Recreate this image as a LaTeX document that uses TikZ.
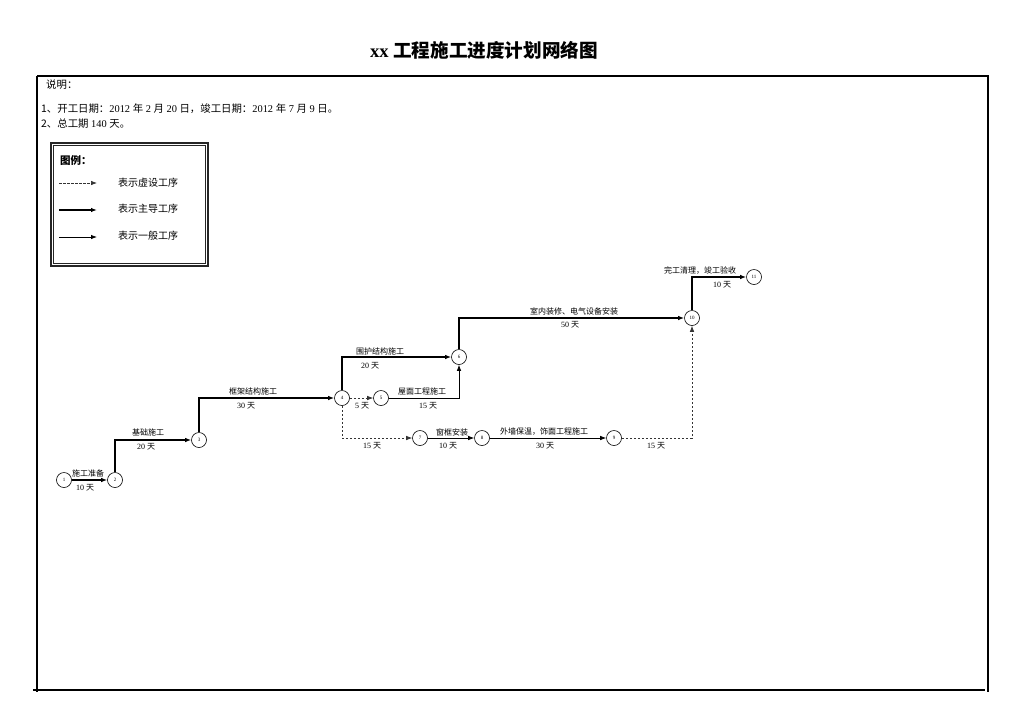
\documentclass[tikz,border=0pt]{standalone}
\usepackage{fontspec}
\setmainfont{Liberation Serif}
\newfontfamily\cj{Noto Sans CJK SC}
\usetikzlibrary{arrows.meta}
\begin{document}
\begin{tikzpicture}[x=1pt,y=-1pt,
  ev/.style={circle,draw,line width=0.6pt,minimum size=15pt,inner sep=0pt,fill=white,font=\fontsize{5}{5}\selectfont},
  tip/.style={-{Latex[length=6pt,width=4.5pt]}},
  mainline/.style={tip,line width=1.5pt},
  normline/.style={tip,line width=0.8pt},
  dummyline/.style={tip,line width=0.7pt,dash pattern=on 2.5pt off 1.5pt,draw=black!80},
  lbl/.style={font=\fontsize{8}{8}\selectfont\cj,inner sep=0.5pt},
  num/.style={font=\fontsize{8}{8}\selectfont,inner sep=0.5pt},
  txt/.style={font=\fontsize{10.4}{10.4}\selectfont,inner sep=0pt,anchor=west},
  legtxt/.style={font=\fontsize{10}{10}\selectfont\cj,inner sep=0pt},
  frame/.style={line width=1.2pt}]
\useasboundingbox (0,0) rectangle (1024,724);
% title
\node[font=\fontsize{18.6}{18.6}\selectfont\bfseries] (title) at (484,50) {xx {\cj 工程施工进度计划网络图}};
% frame
\coordinate (f1) at (37,76);
\coordinate (f2) at (988,76);
\coordinate (f3) at (988,692);
\coordinate (f4) at (37,692);
\draw[frame] (f1) -- (f2) -- (f3);
\draw[frame] (f1) -- (f4);
\coordinate (b1) at (33,690);
\coordinate (b2) at (985,690);
\draw[frame] (b1) -- (b2);
% description
\node[txt] (d0) at (46,85) {\cj 说明：};
\node[txt] (d1) at (41,109) {{\cj 1、开工日期：}2012 {\cj 年} 2 {\cj 月} 20 {\cj 日，竣工日期：}2012 {\cj 年} 7 {\cj 月} 9 {\cj 日。}};
\node[txt] (d2) at (41,124) {{\cj 2、总工期} 140 {\cj 天。}};
% legend
\coordinate (r1) at (51,143); \coordinate (r2) at (208,266);
\coordinate (r3) at (53.5,145.5); \coordinate (r4) at (205.5,263.5);
\draw[line width=1.2pt,draw=black!85] (r1) rectangle (r2);
\draw[line width=0.7pt,draw=black!85] (r3) rectangle (r4);
\node[font=\fontsize{10.5}{10.5}\selectfont\bfseries\cj,anchor=west,inner sep=0pt] (lg) at (60,161) {图例：};
\coordinate (la1) at (59,183); \coordinate (la2) at (97,183);
\coordinate (lb1) at (59,210); \coordinate (lb2) at (97,210);
\coordinate (lc1) at (59,237); \coordinate (lc2) at (97,237);
\draw[dummyline] (la1) -- (la2);
\draw[mainline] (lb1) -- (lb2);
\draw[normline] (lc1) -- (lc2);
\node[legtxt] (lt1) at (148,183) {表示虚设工序};
\node[legtxt] (lt2) at (148,209) {表示主导工序};
\node[legtxt] (lt3) at (148,236) {表示一般工序};
% events
\node[ev] (n1) at (64,480) {1};
\node[ev] (n2) at (115,480) {2};
\node[ev] (n3) at (199,440) {3};
\node[ev] (n4) at (342,398) {4};
\node[ev] (n5) at (381,398) {5};
\node[ev] (n6) at (459,357) {6};
\node[ev] (n7) at (420,438) {7};
\node[ev] (n8) at (482,438) {8};
\node[ev] (n9) at (614,438) {9};
\node[ev] (n10) at (692,318) {10};
\node[ev] (n11) at (754,277) {11};
% activities
\draw[mainline] (n1) -- (n2);
\draw[mainline] (n2) |- (n3);
\draw[mainline] (n3) |- (n4);
\draw[mainline] (n4) |- (n6);
\draw[dummyline] (n4) -- (n5);
\draw[normline] (n5) -| (n6);
\draw[dummyline] (n4) |- (n7);
\draw[normline] (n7) -- (n8);
\draw[normline] (n8) -- (n9);
\draw[dummyline] (n9) -| (n10);
\draw[mainline] (n6) |- (n10);
\draw[mainline] (n10) |- (n11);
% labels
\node[lbl] (t1a) at (88,473) {施工准备};
\node[num] (t1b) at (85,488) {10 {\cj 天}};
\node[lbl] (t2a) at (148,432) {基础施工};
\node[num] (t2b) at (146,447) {20 {\cj 天}};
\node[lbl] (t3a) at (253,391) {框架结构施工};
\node[num] (t3b) at (246,406) {30 {\cj 天}};
\node[lbl] (t4a) at (380,351) {围护结构施工};
\node[num] (t4b) at (370,366) {20 {\cj 天}};
\node[num] (t45) at (362,406) {5 {\cj 天}};
\node[lbl] (t5a) at (422,391) {屋面工程施工};
\node[num] (t5b) at (428,406) {15 {\cj 天}};
\node[num] (t47) at (372,446) {15 {\cj 天}};
\node[lbl] (t7a) at (452,432) {窗框安装};
\node[num] (t7b) at (448,446) {10 {\cj 天}};
\node[lbl] (t8a) at (544,432) {外墙保温，饰面工程施工};
\node[num] (t8b) at (545,446) {30 {\cj 天}};
\node[num] (t9) at (656,446) {15 {\cj 天}};
\node[lbl] (t6a) at (574,311) {室内装修、电气设备安装};
\node[num] (t6b) at (570,325) {50 {\cj 天}};
\node[lbl] (t10a) at (700,271) {完工清理，竣工验收};
\node[num] (t10b) at (722,285) {10 {\cj 天}};
\end{tikzpicture}
\end{document}
